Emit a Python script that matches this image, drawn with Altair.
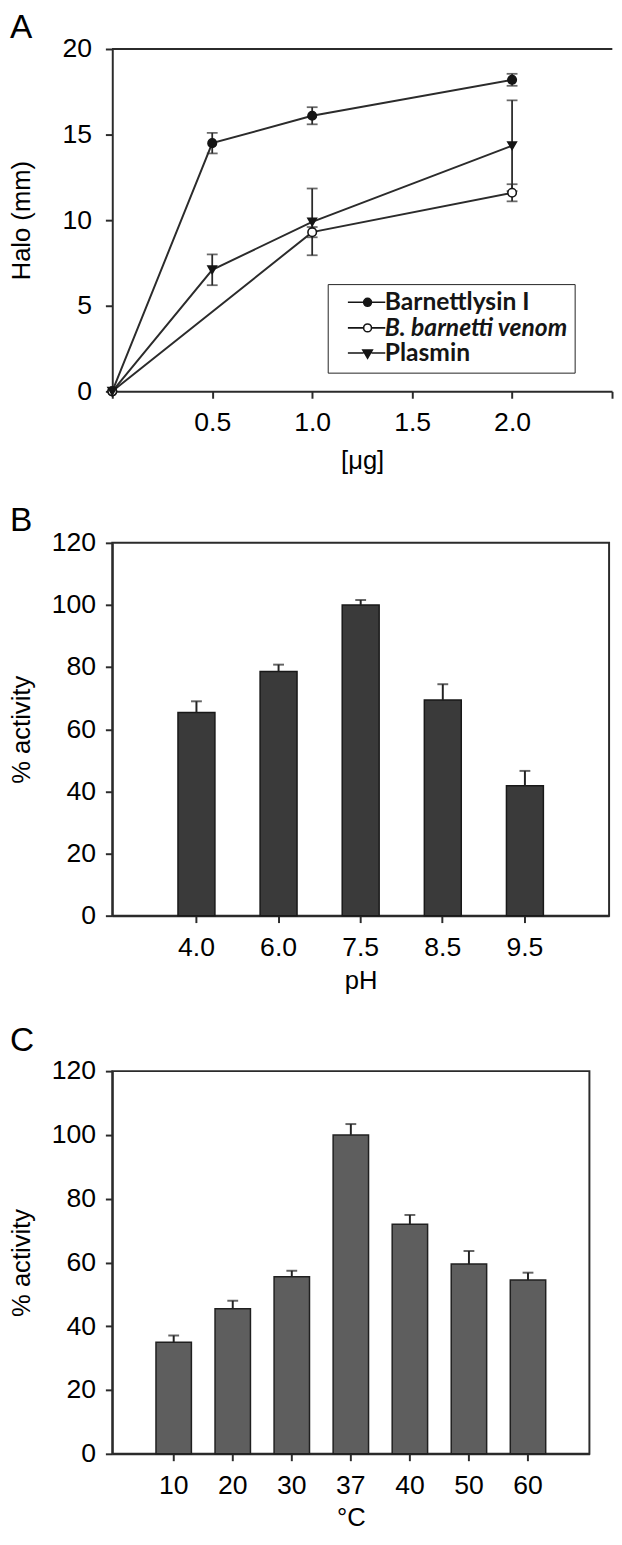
import altair as alt
import pandas as pd

# ---------------- Panel A data ----------------
dose_ug = [0, 0.5, 1.0, 2.0]
barnettlysin_halo = [0, 14.5, 16.1, 18.2]
barnettlysin_sd = [0, 0.6, 0.5, 0.35]
venom_dose_ug = [0, 1.0, 2.0]
venom_halo = [0, 9.3, 11.6]
venom_sd = [0, 0.3, 0.5]
plasmin_halo = [0, 7.1, 9.9, 14.35]
plasmin_sd = [0, 0.9, 1.95, 2.65]
series_names = ["Barnettlysin I", "B. barnetti venom", "Plasmin"]
dose_ticks = [0, 0.5, 1.0, 1.5, 2.0, 2.5]
halo_ticks = [0, 5, 10, 15, 20]

# ---------------- Panel B data ----------------
ph_labels = ["4.0", "6.0", "7.5", "8.5", "9.5"]
ph_activity = [65.4, 78.6, 100.0, 69.4, 41.8]
ph_err_top = [69.0, 80.8, 101.6, 74.5, 46.6]

# ---------------- Panel C data ----------------
temp_labels = ["10", "20", "30", "37", "40", "50", "60"]
temp_activity = [35.0, 45.5, 55.5, 100.0, 72.0, 59.5, 54.5]
temp_err_top = [37.1, 48.0, 57.4, 103.4, 74.9, 63.6, 56.8]
activity_ticks = [0, 20, 40, 60, 80, 100, 120]

FONT = "Liberation Sans"
INK = "#2b2b2b"
LEFT_TITLE_X = -92

rows = []
for name, xs, ys, es in [
    (series_names[0], dose_ug, barnettlysin_halo, barnettlysin_sd),
    (series_names[1], venom_dose_ug, venom_halo, venom_sd),
    (series_names[2], dose_ug, plasmin_halo, plasmin_sd),
]:
    for x, y, e in zip(xs, ys, es):
        rows.append({"series": name, "dose": x, "halo": y, "sd": e,
                     "lo": y - e, "hi": y + e})
df_a = pd.DataFrame(rows)

W_A, H_A = 508, 348
xa = alt.X("dose:Q", scale=alt.Scale(domain=[0, 2.5], nice=False),
           axis=alt.Axis(values=dose_ticks, title="[μg]",
                         labelExpr="datum.value > 0 && datum.value < 2.5 ? format(datum.value, '.1f') : ''",
                         labelPadding=12, titlePadding=12))
ya = alt.Y("halo:Q", scale=alt.Scale(domain=[0, 20], nice=False),
           axis=alt.Axis(values=halo_ticks, title="Halo (mm)", labelPadding=14,
                         titleX=LEFT_TITLE_X, titleY=H_A / 2, titleBaseline="middle"))

base_a = alt.Chart(df_a)
lines_a = base_a.mark_line(color=INK, strokeWidth=2).encode(
    x=xa, y=ya, detail="series:N", order="dose:Q")
err_a = base_a.transform_filter("datum.sd > 0").mark_rule(color=INK, strokeWidth=1.8).encode(
    x="dose:Q", y="lo:Q", y2="hi:Q")
cap_lo = base_a.transform_filter("datum.sd > 0").mark_tick(
    orient="horizontal", size=11, thickness=1.8, color=INK).encode(x="dose:Q", y="lo:Q")
cap_hi = base_a.transform_filter("datum.sd > 0").mark_tick(
    orient="horizontal", size=11, thickness=1.8, color=INK).encode(x="dose:Q", y="hi:Q")

shape_scale = alt.Scale(domain=series_names, range=["circle", "circle", "triangle-down"])
fill_scale = alt.Scale(domain=series_names, range=["#151515", "white", "#151515"])
points_a = base_a.mark_point(filled=True, size=75, stroke="#151515", strokeWidth=1.6, opacity=1).encode(
    x="dose:Q", y="halo:Q",
    shape=alt.Shape("series:N", scale=shape_scale, legend=None),
    fill=alt.Fill("series:N", scale=fill_scale, legend=None))

circle_path = "M-5,0H-1M1,0H4.5M1,0A1,1,0,1,1,-1,0A1,1,0,1,1,1,0Z"
tri_path = "M-5,-0.1H-1M1,-0.1H4.5M-1.2,-0.9L1.2,-0.9L0,1.2Z"
legend_a = alt.Legend(
    title=None, orient="none", legendX=219, legendY=239,
    padding=6, strokeColor="#222", fillColor="white",
    labelFont="Lato", labelFontWeight="bold", labelFontSize=25, labelColor="#151515",
    labelFontStyle={"expr": "datum.value === 'B. barnetti venom' ? 'italic' : 'normal'"},
    symbolType={"expr": "datum.value === 'Plasmin' ? '" + tri_path + "' : '" + circle_path + "'"},
    symbolSize=64, symbolOffset=22, labelOffset=5, rowPadding=0, labelLimit=400,
    symbolStrokeColor="#151515", symbolStrokeWidth=1.6, symbolOpacity=1)
legend_layer = base_a.transform_filter("false").mark_point(
    filled=True, size=64, stroke="#151515", strokeWidth=1.6).encode(
    x="dose:Q", y="halo:Q",
    fill=alt.Fill("series:N", scale=alt.Scale(domain=series_names, range=["#151515", "white", "#151515"]),
                  legend=legend_a))

top_rule = alt.Chart(df_a).mark_rule(color=INK, strokeWidth=2).encode(
    y=alt.value(0), x=alt.value(0), x2=alt.value(W_A))

chart_a = alt.layer(lines_a, err_a, cap_lo, cap_hi, points_a, top_rule, legend_layer).resolve_scale(
    fill="independent", shape="independent"
).properties(
    width=W_A, height=H_A,
    view=alt.ViewBackground(stroke="transparent"),
    title=alt.TitleParams("A", anchor="start", frame="group", dx=-104, offset=-10,
                          fontSize=34, font=FONT, fontWeight="normal", color="black"))

# ---------------- Panel B ----------------
df_b = pd.DataFrame({"ph": ph_labels, "activity": ph_activity, "err": ph_err_top})
W_B, H_B = 505, 379
xb = alt.X("ph:N", sort=ph_labels, scale=alt.Scale(paddingInner=0.55, paddingOuter=0.8),
           axis=alt.Axis(labelAngle=0, title="pH", labelPadding=12, titlePadding=8))
yb = alt.Y("activity:Q", scale=alt.Scale(domain=[0, 120], nice=False),
           axis=alt.Axis(values=activity_ticks, title="% activity", labelPadding=10,
                         titleX=LEFT_TITLE_X, titleY=H_B / 2, titleBaseline="middle"))
base_b = alt.Chart(df_b)
bars_b = base_b.mark_bar(fill="#3a3a3a", stroke="#181818", strokeWidth=1.5).encode(x=xb, y=yb)
err_b = base_b.mark_rule(color="#222", strokeWidth=2).encode(x="ph:N", y="activity:Q", y2="err:Q")
cap_b = base_b.mark_tick(size=11, thickness=2, color="#222").encode(x="ph:N", y="err:Q")
chart_b = alt.layer(bars_b, err_b, cap_b).properties(
    width=W_B, height=H_B,
    view=alt.ViewBackground(stroke=INK, strokeWidth=2),
    title=alt.TitleParams("B", anchor="start", frame="group", dx=-104, offset=-9,
                          fontSize=34, font=FONT, fontWeight="normal", color="black"))

# ---------------- Panel C ----------------
df_c = pd.DataFrame({"temp": temp_labels, "activity": temp_activity, "err": temp_err_top})
W_C, H_C = 485, 389
xc = alt.X("temp:N", sort=temp_labels, scale=alt.Scale(paddingInner=0.4, paddingOuter=0.74),
           axis=alt.Axis(labelAngle=0, title="°C", labelPadding=12, titlePadding=7))
yc = alt.Y("activity:Q", scale=alt.Scale(domain=[0, 120], nice=False),
           axis=alt.Axis(values=activity_ticks, title="% activity", labelPadding=10,
                         titleX=LEFT_TITLE_X, titleY=H_C / 2, titleBaseline="middle"))
base_c = alt.Chart(df_c)
bars_c = base_c.mark_bar(fill="#5e5e5e", stroke="#202020", strokeWidth=1.5).encode(x=xc, y=yc)
err_c = base_c.mark_rule(color="#222", strokeWidth=2).encode(x="temp:N", y="activity:Q", y2="err:Q")
cap_c = base_c.mark_tick(size=11, thickness=2, color="#222").encode(x="temp:N", y="err:Q")
chart_c = alt.layer(bars_c, err_c, cap_c).properties(
    width=W_C, height=H_C,
    view=alt.ViewBackground(stroke=INK, strokeWidth=2),
    title=alt.TitleParams("C", anchor="start", frame="group", dx=-104, offset=-1,
                          fontSize=34, font=FONT, fontWeight="normal", color="black"))

chart = alt.vconcat(chart_a, chart_b, chart_c, spacing=30).properties(
    padding={"left": 0, "top": -10, "right": 0, "bottom": 0}
).configure_axis(
    domainColor=INK, domainWidth=2, tickColor=INK, tickWidth=2, tickSize=7,
    labelFont=FONT, labelFontSize=27, labelColor="black",
    titleFont=FONT, titleFontSize=26, titleFontWeight="normal", titleColor="black",
    grid=False
).configure_axisX(labelFlush=False)

chart.save("out.html", embed_options={"renderer": "svg", "actions": False})
